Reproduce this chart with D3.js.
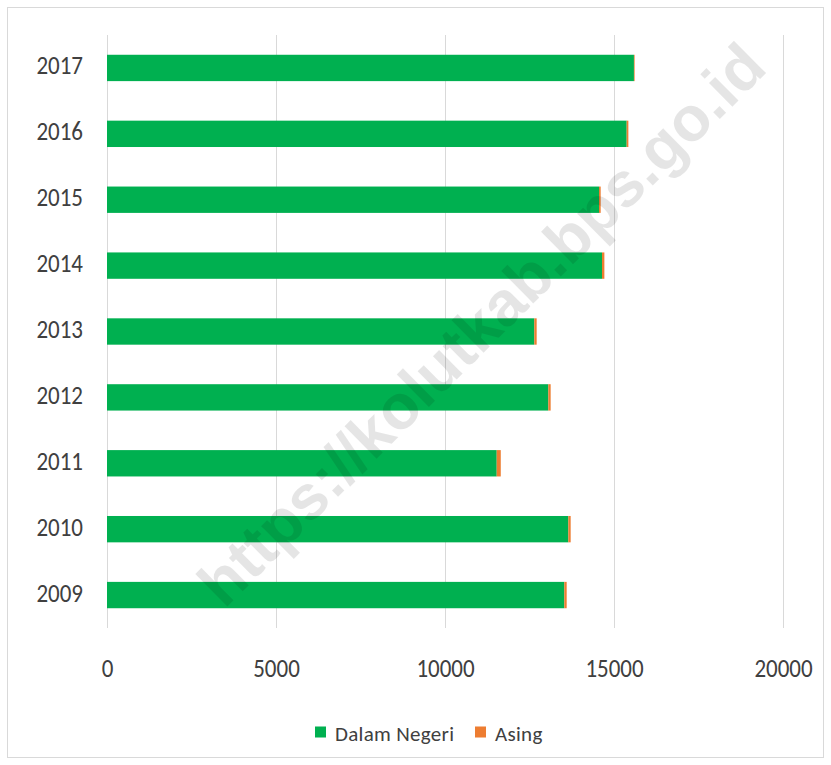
<!DOCTYPE html>
<html>
<head>
<meta charset="utf-8">
<script src="https://cdn.jsdelivr.net/npm/d3@7"></script>
<style>
  body { margin: 0; background: #fff; }
  svg { font-family: Carlito, "Liberation Sans Narrow", "Liberation Sans", sans-serif; }
</style>
</head>
<body>
<svg id="chart" width="831" height="765"></svg>
<script>
// data
var years = ['2009', '2010', '2011', '2012', '2013', '2014', '2015', '2016', '2017'];
var dalamNegeri = [13530, 13648, 11530, 13056, 12642, 14645, 14556, 15375, 15590];
var asing = [70, 70, 120, 70, 70, 70, 50, 50, 20];
var xTicks = [0, 5000, 10000, 15000, 20000];
var seriesNames = ['Dalam Negeri', 'Asing'];
var seriesColors = ['#00b050', '#ed7d31'];

var fontStack = 'Carlito, "Liberation Sans Narrow", "Liberation Sans", sans-serif';
var svg = d3.select('#chart');
var margin = {left: 107, right: 48, top: 35, bottom: 137};
var width = 831 - margin.left - margin.right;
var height = 765 - margin.top - margin.bottom;
var stretch = 1.15; // labels in the picture look a bit taller than wide

// outer frame
svg.append('rect')
  .attr('x', 7.5).attr('y', 7.5)
  .attr('width', 816).attr('height', 750)
  .attr('fill', 'none').attr('stroke', '#d9d9d9');

var g = svg.append('g').attr('transform', 'translate(' + margin.left + ',' + margin.top + ')');

var x = d3.scaleLinear().domain([0, 20000]).range([0, width]);
// top to bottom 2017 -> 2009
var y = d3.scaleBand().domain(years.slice().reverse()).range([0, height]).paddingInner(0.6).paddingOuter(0.3);

// vertical gridlines
g.selectAll('.grid')
  .data(xTicks)
  .enter().append('line')
  .attr('x1', function(d) { return x(d) + 0.5; })
  .attr('x2', function(d) { return x(d) + 0.5; })
  .attr('y1', 0).attr('y2', height)
  .attr('stroke', '#d9d9d9').attr('stroke-width', 1);

var rows = years.map(function(yr, i) {
  return {year: yr, dn: dalamNegeri[i], as: asing[i]};
});

g.selectAll('.bar-dn')
  .data(rows)
  .enter().append('rect')
  .attr('x', x(0))
  .attr('y', function(d) { return y(d.year); })
  .attr('width', function(d) { return x(d.dn) - x(0); })
  .attr('height', y.bandwidth())
  .attr('fill', seriesColors[0]);

g.selectAll('.bar-as')
  .data(rows)
  .enter().append('rect')
  .attr('x', function(d) { return x(d.dn); })
  .attr('y', function(d) { return y(d.year); })
  .attr('width', function(d) { return x(d.dn + d.as) - x(d.dn); })
  .attr('height', y.bandwidth())
  .attr('fill', seriesColors[1]);

// y labels
var yAxis = d3.axisLeft(y).tickSize(0).tickPadding(24);
g.append('g').call(yAxis)
  .call(function(a) { a.select('.domain').remove(); })
  .selectAll('text')
  .attr('font-size', 23).attr('fill', '#404040')
  .attr('dy', 6.5 / stretch)
  .attr('transform', 'scale(1,' + stretch + ')')
  .style('font-family', fontStack);

// x labels
var xAxis = d3.axisBottom(x).tickValues(xTicks).tickSize(0).tickFormat(d3.format('d'));
g.append('g').attr('transform', 'translate(0,' + height + ')').call(xAxis)
  .call(function(a) { a.select('.domain').remove(); })
  .selectAll('text')
  .attr('font-size', 23).attr('fill', '#404040')
  .attr('dy', 0).attr('y', 49 / stretch)
  .attr('transform', 'scale(1,' + stretch + ')')
  .style('font-family', fontStack);

// legend
var legendPos = [315, 475];
var legend = svg.append('g').attr('transform', 'translate(0,732)');
seriesNames.forEach(function(name, i) {
  legend.append('rect')
    .attr('x', legendPos[i]).attr('y', -5.5)
    .attr('width', 11).attr('height', 11)
    .attr('fill', seriesColors[i]);
  legend.append('text')
    .attr('x', legendPos[i] + 20).attr('y', 9)
    .attr('font-size', 21).attr('fill', '#404040')
    .attr('letter-spacing', 0.3)
    .text(name);
});

// watermark
svg.append('text')
  .attr('transform', 'translate(485,328) rotate(-44.7)')
  .attr('text-anchor', 'middle')
  .attr('dominant-baseline', 'middle')
  .attr('font-size', 63)
  .attr('font-weight', 'bold')
  .style('font-family', '"Liberation Sans", Arial, sans-serif')
  .attr('fill', '#000')
  .attr('fill-opacity', 0.1)
  .text('https://kolutkab.bps.go.id');
</script>
</body>
</html>
